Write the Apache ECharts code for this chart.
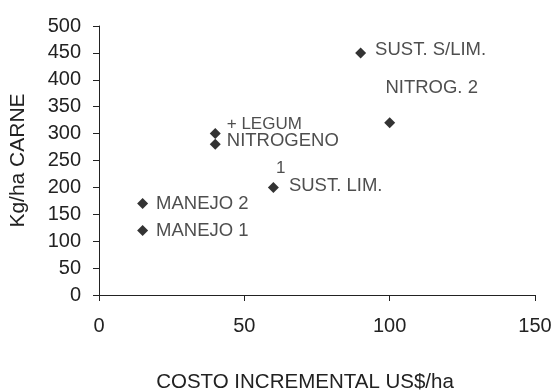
<!DOCTYPE html>
<html><head><meta charset="utf-8">
<script src="https://cdn.jsdelivr.net/npm/echarts@6/dist/echarts.min.js"></script>
<style>html,body{margin:0;padding:0;background:#fff}#c{width:555px;height:391px}</style>
</head><body><div id="c"></div>
<script>
const names = ['MANEJO 1','MANEJO 2','NITROGENO','+ LEGUM','SUST. LIM.','SUST. S/LIM.','NITROG. 2'];
const costX = [15, 15, 40, 40, 60, 90, 100];
const carneY = [120, 170, 280, 300, 200, 450, 320];
const xTicks = [0, 50, 100, 150];
const yTicks = [0, 50, 100, 150, 200, 250, 300, 350, 400, 450, 500];

const FONT = '"Liberation Sans", Arial, sans-serif';
const TXT = '#222';
const labelCfg = {
  'MANEJO 1': {position: 'right', distance: 8},
  'MANEJO 2': {position: 'right', distance: 8},
  'NITROGENO': {position: 'right', distance: 6, offset: [0, -3]},
  '+ LEGUM': {position: 'right', distance: 6, offset: [0, -9], fontSize: 17},
  'SUST. LIM.': {position: 'right', distance: 10, offset: [0, -10], formatter: '{s|1}\n{b}', rich: {s:{fontSize:17, fontFamily:FONT, color:TXT, padding:[0,0,0,-13], lineHeight:18}}},
  'SUST. S/LIM.': {position: 'right', distance: 9, offset: [0, -3]},
  'NITROG. 2': {position: 'top', distance: 20, offset: [42, 0]}
};
const data = names.map((n, i) => {
  const c = labelCfg[n];
  return {
    name: n, value: [costX[i], carneY[i]],
    label: Object.assign({show: true, formatter: '{b}', fontSize: 18.5, fontFamily: FONT, color: TXT}, c)
  };
});

const chart = echarts.init(document.getElementById('c'), null, {renderer: 'canvas'});
chart.setOption({
  animation: false,
  grid: {left: 97, right: 20, top: 26, bottom: 96},
  xAxis: {
    type: 'value', min: 0, max: 150, interval: 50,
    axisLine: {lineStyle: {color: '#222', width: 1}},
    axisTick: {show: true, length: 6, lineStyle: {color: '#222'}},
    splitLine: {show: false},
    axisLabel: {fontSize: 20, fontFamily: FONT, color: TXT, margin: 21,
      formatter: v => xTicks.includes(v) ? String(v) : ''}
  },
  yAxis: {
    type: 'value', min: 0, max: 500, interval: 50,
    name: 'Kg/ha CARNE', nameLocation: 'middle', nameGap: 70, nameRotate: 90,
    nameTextStyle: {fontSize: 21, fontFamily: FONT, color: TXT},
    axisLine: {show: true, lineStyle: {color: '#222', width: 1}},
    axisTick: {show: true, length: 6, lineStyle: {color: '#222'}},
    splitLine: {show: false},
    axisLabel: {fontSize: 20, fontFamily: FONT, color: TXT, margin: 18,
      formatter: v => yTicks.includes(v) ? String(v) : ''}
  },
  title: {
    text: 'COSTO INCREMENTAL US$/ha', left: 300, top: 367, textAlign: 'center',
    textStyle: {fontSize: 20.5, fontWeight: 'normal', fontFamily: FONT, color: TXT}
  },
  series: [{
    type: 'scatter', symbol: 'diamond', symbolSize: 11,
    itemStyle: {color: '#000'},
    data: data
  }]
});
</script></body></html>
